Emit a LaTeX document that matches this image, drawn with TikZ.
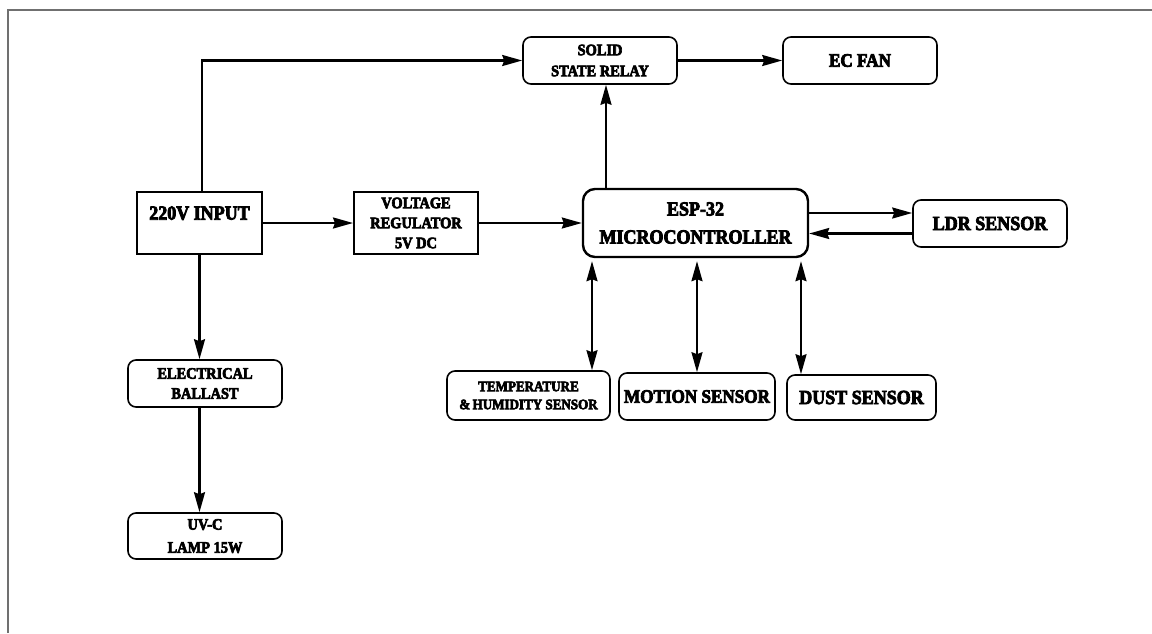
\documentclass[tikz,border=0pt]{standalone}
\usepackage{fontspec}
\newfontfamily\hf{Liberation Serif Bold}[FakeStretch=0.9,FakeBold=4]
\usetikzlibrary{arrows.meta,calc}
\definecolor{framegray}{RGB}{112,112,112}
\begin{document}
\begin{tikzpicture}[x=1pt,y=-1pt,
  big/.style={font=\hf\fontsize{20}{28}\selectfont},
  mid/.style={font=\hf\fontsize{19}{24}\selectfont},
  small/.style={font=\hf\fontsize{16}{20}\selectfont},
  tiny/.style={font=\hf\fontsize{14.5}{18}\selectfont},
  rbox/.style={draw, rounded corners=8pt, line width=1.6pt, align=center, inner sep=0pt},
  sbox/.style={draw, line width=2pt, align=center, inner sep=0pt},
  arr/.style={line width=2.2pt, -{Stealth[length=20pt,width=11pt,inset=2pt]}},
  darr/.style={line width=2.2pt, {Stealth[length=20pt,width=11pt,inset=2pt]}-{Stealth[length=20pt,width=11pt,inset=2pt]}},
  frameline/.style={draw=framegray, line width=2pt}
]
\useasboundingbox (0,0) rectangle (1152,633);
\draw[frameline] (8,633) -- (8,10) -- (1152,10);

% nodes
\node[sbox, big, minimum width=125, minimum height=62] (inp) at (199.5,223) {220V INPUT\\[-8pt]\mbox{}};
\node[sbox, small, minimum width=124, minimum height=62] (vr) at (416,223) {VOLTAGE\\REGULATOR\\5V DC};
\node[rbox, big, rounded corners=12pt, line width=2.4pt, minimum width=225, minimum height=68] (esp) at (695.5,223) {ESP-32\\MICROCONTROLLER};
\node[rbox, small, minimum width=154, minimum height=47] (ssr) at (600,60.5) {SOLID\\[1pt]STATE RELAY};
\node[rbox, mid, minimum width=154, minimum height=47] (fan) at (860,60.5) {EC FAN};
\node[rbox, big, minimum width=154, minimum height=47] (ldr) at (990,223.5) {LDR SENSOR};
\node[rbox, tiny, minimum width=163, minimum height=49] (temp) at (528.5,395.5) {TEMPERATURE\\\&\,HUMIDITY SENSOR};
\node[rbox, mid, minimum width=156, minimum height=47] (mot) at (697,396.5) {MOTION SENSOR};
\node[rbox, big, minimum width=149, minimum height=45] (dust) at (861.5,397.5) {DUST SENSOR};
\node[rbox, small, minimum width=154, minimum height=47] (bal) at (205,383.5) {ELECTRICAL\\BALLAST};
\node[rbox, small, minimum width=154, minimum height=46] (uvc) at (205,536) {UV-C\\[3pt]LAMP 15W};

\coordinate (tx) at (592,0);
\coordinate (dx) at (801,0);
\coordinate (sx) at (606,0);

% connectors
\draw[arr] ([xshift=2.5pt]inp.north) |- (ssr.west);
\draw[arr] (ssr.east) -- (fan.west);
\draw[arr] (esp.north -| sx) -- (ssr.south -| sx);
\draw[arr] (inp.east) -- (vr.west);
\draw[arr] (vr.east) -- (esp.west);
\draw[arr] (inp.south) -- (inp.south |- bal.north);
\draw[arr] (bal.south -| inp.south) -- (uvc.north -| inp.south);
\draw[arr] ([yshift=10pt]esp.east) -- ([yshift=10pt]esp.east -| ldr.west);
\draw[arr] ([yshift=-10pt]ldr.west) -- ([yshift=-10pt]ldr.west -| esp.east);
\draw[darr] ([yshift=-3pt]esp.south -| tx) -- (temp.north -| tx);
\draw[darr] ([yshift=-3pt]esp.south -| mot.north) -- (mot.north);
\draw[darr] ([yshift=-3pt]esp.south -| dx) -- (dust.north -| dx);
\end{tikzpicture}
\end{document}
